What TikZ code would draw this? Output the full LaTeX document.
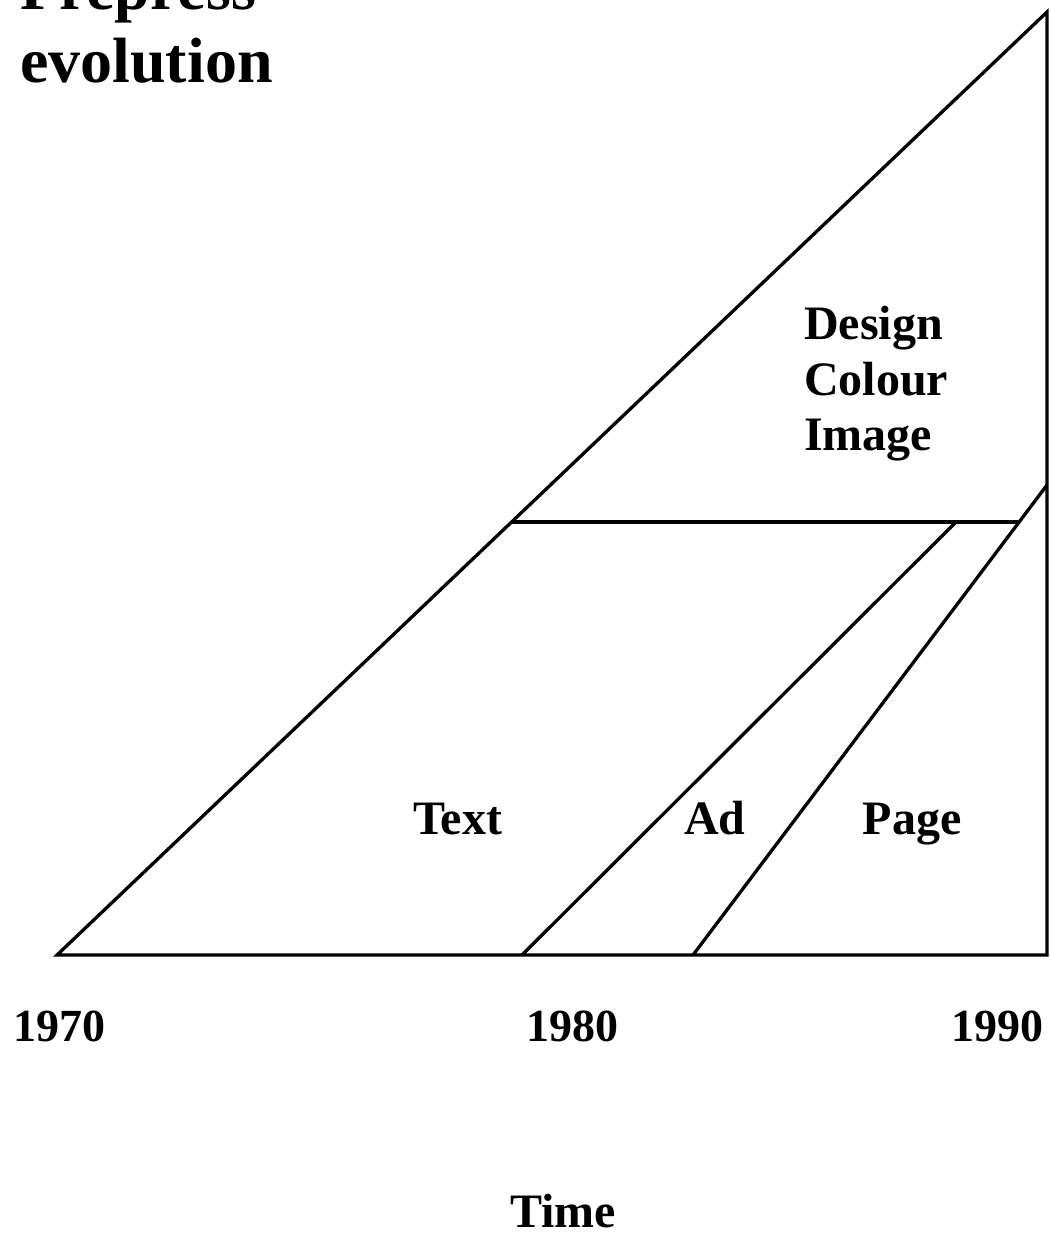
\documentclass[tikz,border=0pt]{standalone}
\usepackage{fontspec}
\setmainfont{Liberation Serif}
\begin{document}
\begin{tikzpicture}[x=1pt,y=-1pt,
  edge/.style={line width=3.3pt,line join=miter},
  lbl/.style={inner sep=0pt,font=\fontsize{48}{56}\selectfont\bfseries},
  yr/.style={inner sep=0pt,font=\fontsize{46}{54}\selectfont\bfseries},
  ttl/.style={inner sep=0pt,font=\fontsize{64}{72}\selectfont\bfseries}]
\useasboundingbox (0,0) rectangle (1050,1239);

% corner points of the growth triangle
\coordinate (o) at (57,955);
\coordinate (apex) at (1047,12);
\coordinate (br) at (1047,955);
% split between text/ad/page and design/colour/image
\coordinate (hl) at (512,522);
\coordinate (hr) at (1018,522);
% ad band
\coordinate (adb) at (522,955);
\coordinate (adt) at (956,522);
% page band
\coordinate (pgb) at (693,955);
\coordinate (pgt) at (1047,485);

\draw[edge] (o) -- (apex) -- (br) -- cycle;
\draw[edge] (hl) -- (hr);
\draw[edge] (adb) -- (adt);
\draw[edge] (pgb) -- (pgt);

% title
\node[ttl,anchor=base west] (t1) at (20,10) {Prepress};
\node[ttl,anchor=base west] (t2) at (20,82) {evolution};

% areas
\node[lbl,anchor=base west] (design) at (804,339) {Design};
\node[lbl,anchor=base west] (colour) at (804,395) {Colour};
\node[lbl,anchor=base west] (image) at (804,450) {Image};
\node[lbl,anchor=base west] (text) at (413,834) {Text};
\node[lbl,anchor=base] (ad) at (715,834) {Ad};
\node[lbl,anchor=base] (page) at (912,834) {Page};

% time axis
\node[yr,anchor=base west] (y70) at (13,1041) {1970};
\node[yr,anchor=base] (y80) at (572,1041) {1980};
\node[yr,anchor=base east] (y90) at (1044,1041) {1990};
\node[lbl,anchor=base] (time) at (563,1227) {Time};
\end{tikzpicture}
\end{document}
